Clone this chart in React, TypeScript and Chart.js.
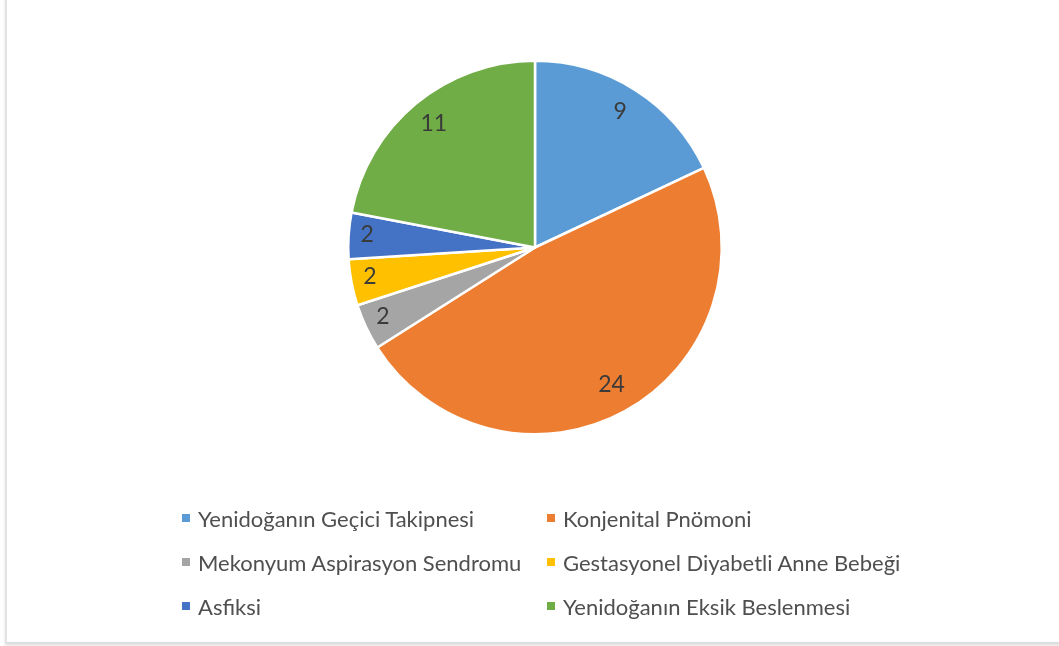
import React, { useEffect, useRef } from "react";
import { Chart, registerables } from "chart.js";

Chart.register(...registerables);

const categories = [
  "Yenidoğanın Geçici Takipnesi",
  "Konjenital Pnömoni",
  "Mekonyum Aspirasyon Sendromu",
  "Gestasyonel Diyabetli Anne Bebeği",
  "Asfiksi",
  "Yenidoğanın Eksik Beslenmesi",
];
const values = [9, 24, 2, 2, 2, 11];
const colors = ["#5B9BD5", "#ED7D31", "#A5A5A5", "#FFC000", "#4472C4", "#70AD47"];

const FONT = "Lato, 'Open Sans', sans-serif";

const labelPlugin = {
  id: "sliceLabels",
  afterDatasetsDraw(chart: any) {
    const ctx = chart.ctx;
    const meta = chart.getDatasetMeta(0);
    const total = values.reduce((a, b) => a + b, 0);
    ctx.save();
    ctx.fillStyle = "#3a3a3a";
    ctx.font = `23px ${FONT}`;
    ctx.textAlign = "center";
    ctx.textBaseline = "middle";
    meta.data.forEach((arc: any, i: number) => {
      const { x, y, startAngle, endAngle, outerRadius } = arc.getProps(
        ["x", "y", "startAngle", "endAngle", "outerRadius"],
        true
      );
      const mid = (startAngle + endAngle) / 2;
      const f = values[i] / total < 0.1 ? 0.9 : 0.85;
      const r = outerRadius * f;
      ctx.fillText(String(values[i]), x + Math.cos(mid) * r, y + Math.sin(mid) * r - 2);
    });
    ctx.restore();
  },
};

export default function App() {
  const ref = useRef<HTMLCanvasElement>(null);
  useEffect(() => {
    if (!ref.current) return;
    const chart = new Chart(ref.current, {
      type: "pie",
      data: {
        labels: categories,
        datasets: [
          {
            data: values,
            backgroundColor: colors,
            borderColor: "#ffffff",
            borderWidth: 2.5,
          },
        ],
      },
      options: {
        animation: false,
        responsive: false,
        maintainAspectRatio: false,
        layout: { padding: { top: 59, bottom: 210, left: 347, right: 336 } },
        plugins: {
          legend: { display: false },
          tooltip: { enabled: false },
        },
      },
      plugins: [labelPlugin],
    });
    return () => chart.destroy();
  }, []);

  const legendCols = [182, 547];
  const legendRows = [518, 562, 606];

  return (
    <div
      style={{
        position: "fixed",
        left: 0,
        top: 0,
        width: 1059,
        height: 646,
        background: "#ffffff",
        overflow: "hidden",
        fontFamily: FONT,
      }}
    >
      <div
        style={{
          position: "absolute",
          left: 5,
          top: -2,
          width: 1100,
          height: 642,
          borderLeft: "2px solid #e2e2e2",
          borderTop: "2px solid #f0f0f0",
          borderBottom: "2px solid #dedede",
          boxShadow: "0 2px 3px rgba(0,0,0,0.12)",
          background: "#ffffff",
        }}
      />
      <canvas
        ref={ref}
        width={1059}
        height={646}
        style={{ position: "absolute", left: 0, top: 0, width: 1059, height: 646 }}
      />
      {categories.map((c, i) => {
        const col = i % 2;
        const row = Math.floor(i / 2);
        return (
          <div
            key={c}
            style={{
              position: "absolute",
              left: legendCols[col],
              top: legendRows[row] - 15,
              height: 30,
              display: "flex",
              alignItems: "center",
              whiteSpace: "nowrap",
              color: "#4f4f4f",
              fontSize: 22,
            }}
          >
            <span
              style={{
                display: "inline-block",
                width: 8,
                height: 8,
                background: colors[i],
                marginRight: 8,
              }}
            />
            <span>{c}</span>
          </div>
        );
      })}
    </div>
  );
}
